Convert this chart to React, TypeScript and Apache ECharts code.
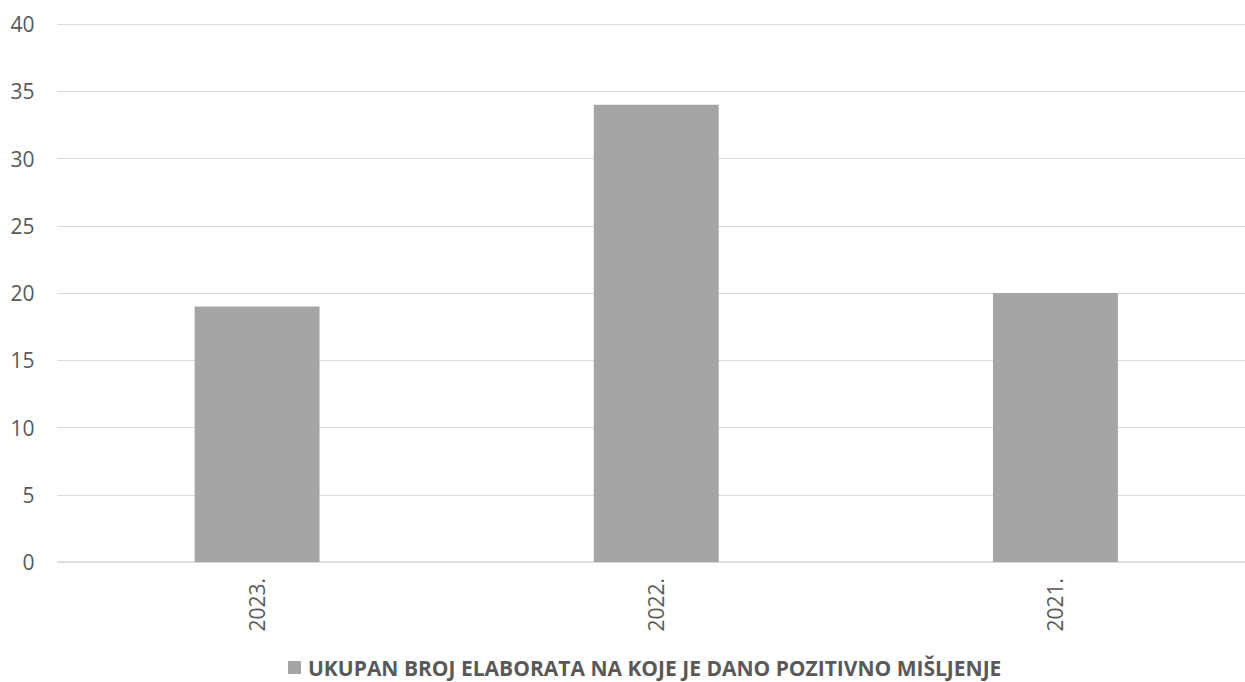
import React, { useEffect, useRef } from "react";
import * as echarts from "echarts";

const categories = ["2023.", "2022.", "2021."];
const seriesName = "UKUPAN BROJ ELABORATA NA KOJE JE DANO POZITIVNO MIŠLJENJE";
const values = [19, 34, 20];

export default function App() {
  const ref = useRef<HTMLDivElement>(null);
  useEffect(() => {
    if (!ref.current) return;
    const chart = echarts.init(ref.current, null, { renderer: "svg" });
    chart.setOption({
      animation: false,
      backgroundColor: "#ffffff",
      textStyle: { fontFamily: "Open Sans" },
      grid: { left: 57.5, right: 0, top: 24, bottom: 120, containLabel: false },
      legend: {
        top: 652,
        left: 283,
        padding: 5,
        itemWidth: 13,
        itemHeight: 13,
        itemGap: 10,
        icon: "rect",
        textStyle: { fontFamily: "Open Sans", fontSize: 21, fontWeight: "bold", color: "#595959", padding: [0, 0, 0, 2] },
        data: [seriesName],
      },
      xAxis: {
        type: "category",
        data: categories,
        axisLine: { show: true, lineStyle: { color: "#d9d9d9", width: 1.5 } },
        axisTick: { show: false },
        axisLabel: { rotate: 90, margin: 16, fontSize: 21, color: "#595959", fontFamily: "Open Sans" },
      },
      yAxis: {
        type: "value",
        min: 0,
        max: 40,
        interval: 5,
        axisLine: { show: false },
        axisTick: { show: false },
        splitLine: { lineStyle: { color: "#d9d9d9", width: 1 } },
        axisLabel: { margin: 23, fontSize: 21, color: "#595959", fontFamily: "Open Sans" },
      },
      series: [
        {
          name: seriesName,
          type: "bar",
          data: values,
          barWidth: "31.3%",
          itemStyle: { color: "#a5a5a5" },
        },
      ],
    });
    return () => chart.dispose();
  }, []);
  return (
    <div style={{ position: "fixed", left: 0, top: 0, width: 1245, height: 682, overflow: "hidden", background: "#fff" }}>
      <div ref={ref} style={{ width: 1255, height: 682 }} />
    </div>
  );
}
